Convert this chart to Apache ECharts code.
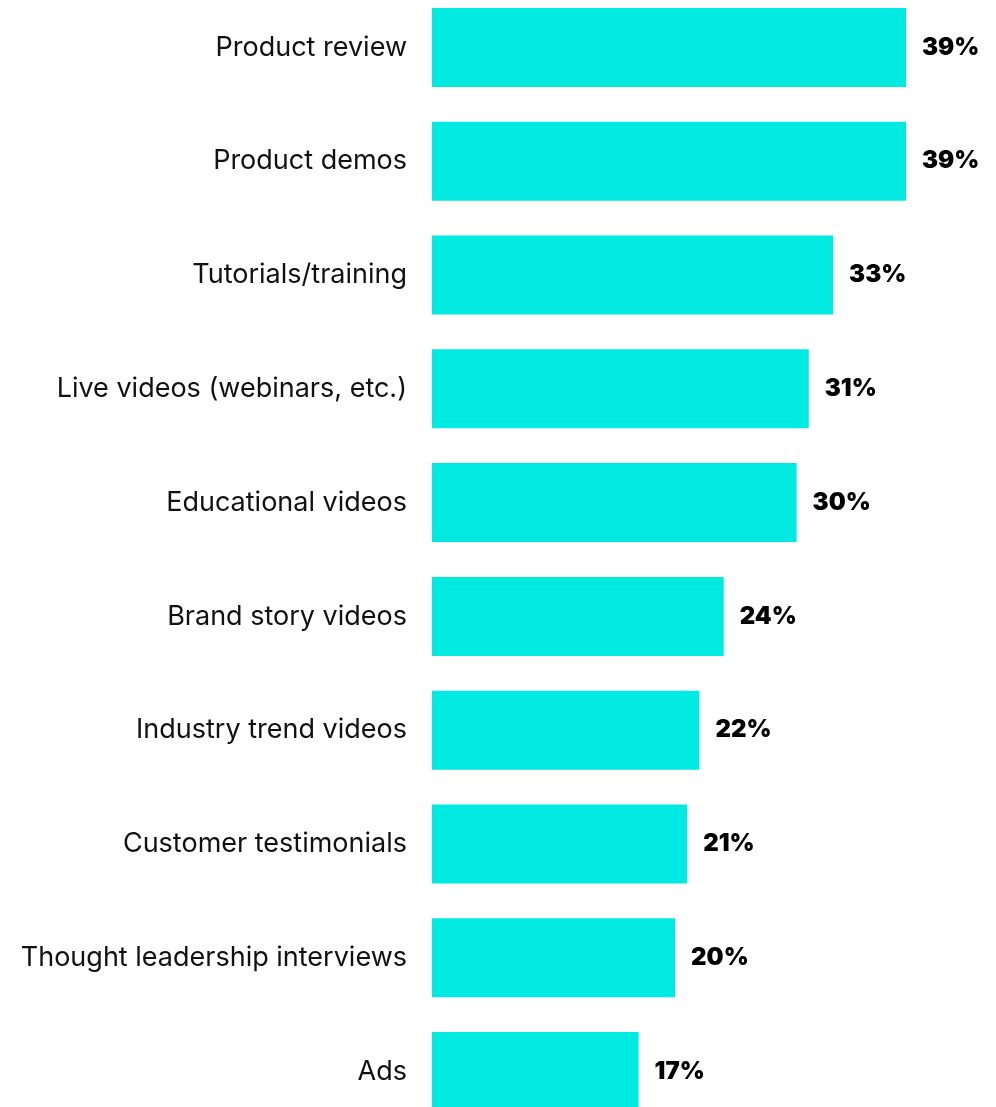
<!DOCTYPE html>
<html>
<head>
<meta charset="utf-8">
<script src="https://cdn.jsdelivr.net/npm/echarts@6/dist/echarts.min.js"></script>
<style>
  html, body { margin: 0; padding: 0; background: #ffffff; }
  #frame { position: relative; width: 996px; height: 1107px; overflow: hidden; }
  /* the plot runs slightly past the top and bottom edges */
  #chart { position: absolute; left: 0; top: -10px; width: 996px; height: 1140px; }
</style>
</head>
<body>
<div id="frame"><div id="chart"></div></div>
<script>
// Share of respondents by video type (percent)
const categories = [
  'Product review',
  'Product demos',
  'Tutorials/training',
  'Live videos (webinars, etc.)',
  'Educational videos',
  'Brand story videos',
  'Industry trend videos',
  'Customer testimonials',
  'Thought leadership interviews',
  'Ads'
];
const values = [39, 39, 33, 31, 30, 24, 22, 21, 20, 17];

const chart = echarts.init(document.getElementById('chart'), null, { renderer: 'canvas' });

chart.setOption({
  backgroundColor: '#ffffff',
  animation: false,
  grid: { left: 432, width: 474, top: 0.6, height: 1137.8, containLabel: false },
  xAxis: {
    type: 'value',
    min: 0,
    max: 39,
    show: false
  },
  yAxis: {
    type: 'category',
    data: categories,
    inverse: true,
    axisLine: { show: false },
    axisTick: { show: false },
    splitLine: { show: false },
    axisLabel: {
      margin: 25,
      color: '#111111',
      fontFamily: 'Inter',
      fontSize: 27,
      fontWeight: 400
    }
  },
  series: [{
    type: 'bar',
    data: values,
    barWidth: 79,
    itemStyle: { color: '#00EAE1' },
    label: {
      show: true,
      position: 'right',
      distance: 16,
      formatter: '{c}%',
      color: '#000000',
      fontFamily: 'Inter',
      fontSize: 24,
      fontWeight: 900
    }
  }]
});
</script>
</body>
</html>
